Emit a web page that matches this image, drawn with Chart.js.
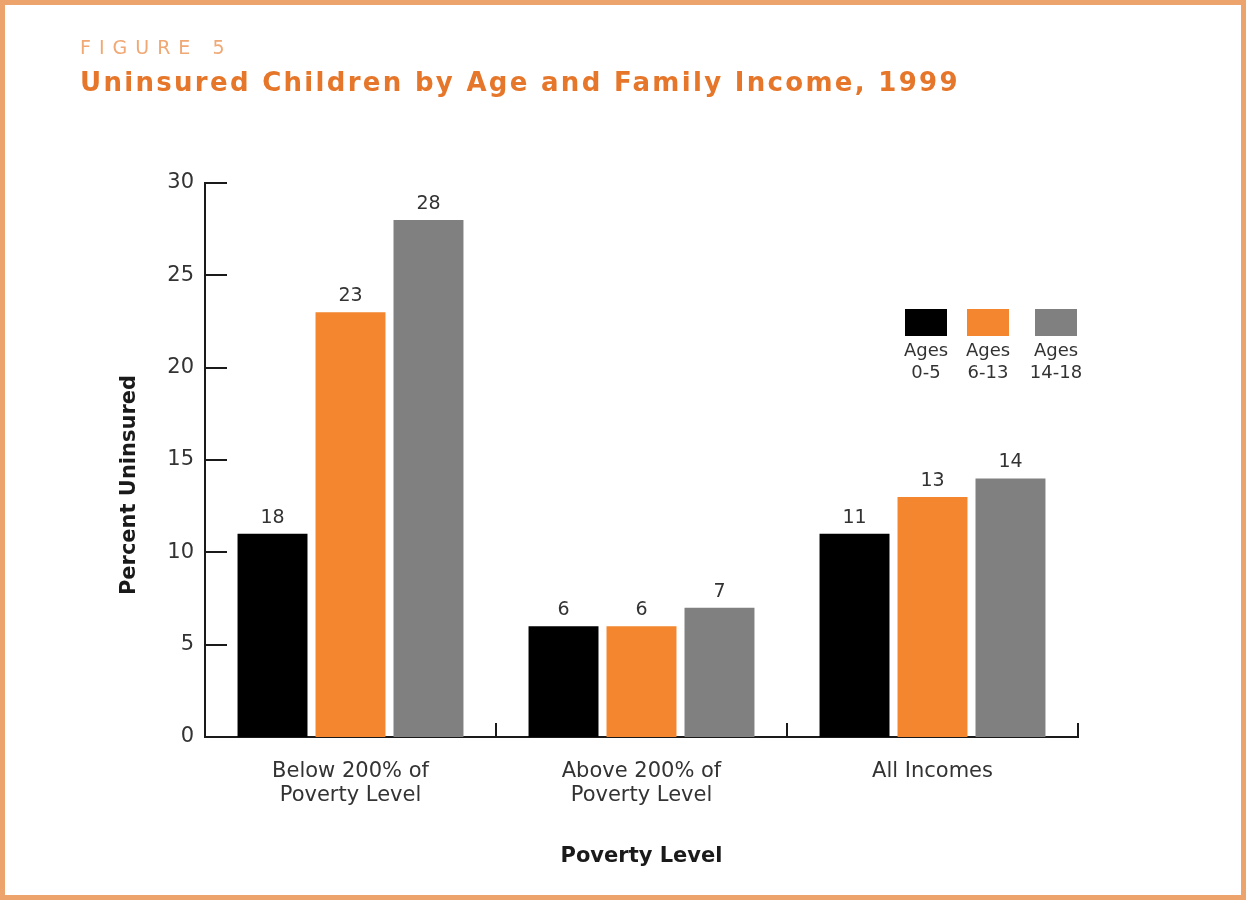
<!DOCTYPE html>
<html>
<head>
<meta charset="utf-8">
<script src="https://cdn.jsdelivr.net/npm/chart.js@4.4.1/dist/chart.umd.min.js"></script>
<style>
  html, body { margin: 0; padding: 0; background: #fff; }
  #wrap { position: relative; width: 1246px; height: 900px; overflow: hidden; }
  #frame { position: absolute; left: 0; top: 0; width: 1246px; height: 900px; box-sizing: border-box;
           border: 5px solid #EDA36C; pointer-events: none; }
  .fig { position: absolute; left: 80px; top: 36px; font: 19px "DejaVu Sans"; letter-spacing: 8px; color: #F0A874; }
  .title { position: absolute; left: 80px; top: 67px; font: bold 26px "DejaVu Sans"; letter-spacing: 2.3px; color: #E5762A; }
  .ytitle { position: absolute; left: 128px; top: 485px; transform: translate(-50%, -50%) rotate(-90deg);
            font: bold 21px "DejaVu Sans"; color: #1a1a1a; white-space: nowrap; }
  canvas { position: absolute; left: 0; top: 0; }
</style>
</head>
<body>
<div id="wrap">
  <canvas id="chart" width="1246" height="900"></canvas>
  <div class="fig">FIGURE 5</div>
  <div class="title">Uninsured Children by Age and Family Income, 1999</div>
  <div class="ytitle">Percent Uninsured</div>
  <div id="frame"></div>
</div>
<script>
// data
const categories = [['Below 200% of', 'Poverty Level'], ['Above 200% of', 'Poverty Level'], 'All Incomes'];
const seriesNames = [['Ages', '0-5'], ['Ages', '6-13'], ['Ages', '14-18']];
const ages0to5 = [11, 6, 11];
const ages6to13 = [23, 6, 13];
const ages14to18 = [28, 7, 14];
// printed labels (first one says 18 in the original even though the bar is at 11)
const labels0to5 = ['18', '6', '11'];
const labels6to13 = ['23', '6', '13'];
const labels14to18 = ['28', '7', '14'];
const yTicks = [0, 5, 10, 15, 20, 25, 30];
const colors = ['#000000', '#F3862E', '#808080'];

const valueLabels = [labels0to5, labels6to13, labels14to18];
const textColor = '#333333';
const axisColor = '#1a1a1a';

Chart.defaults.font.family = '"DejaVu Sans"';

const decor = {
  id: 'decor',
  afterDatasetsDraw(chart) {
    const {ctx, chartArea} = chart;
    const x = chart.scales.x, y = chart.scales.y;
    ctx.save();
    ctx.strokeStyle = axisColor;
    ctx.lineWidth = 2;
    // y ticks point inward
    yTicks.forEach(v => {
      const py = Math.round(y.getPixelForValue(v));
      ctx.beginPath(); ctx.moveTo(chartArea.left, py); ctx.lineTo(chartArea.left + 22, py); ctx.stroke();
    });
    // x ticks between categories, pointing up
    const half = (x.getPixelForValue(1) - x.getPixelForValue(0)) / 2;
    categories.forEach((c, i) => {
      const px = Math.round(x.getPixelForValue(i) + half);
      ctx.beginPath(); ctx.moveTo(px, chartArea.bottom); ctx.lineTo(px, chartArea.bottom - 14); ctx.stroke();
    });
    // value labels above bars
    ctx.fillStyle = textColor;
    ctx.font = '19px "DejaVu Sans"';
    ctx.textAlign = 'center';
    ctx.textBaseline = 'middle';
    chart.data.datasets.forEach((ds, di) => {
      chart.getDatasetMeta(di).data.forEach((bar, i) => {
        ctx.fillText(valueLabels[di][i], bar.x, bar.y - 16);
      });
    });
    // legend, boxes above two-line labels
    ctx.font = '18px "DejaVu Sans"';
    const centers = [152, 90, 22];
    const top = chartArea.top + 126;
    centers.forEach((off, i) => {
      const cx = chartArea.right - off;
      ctx.fillStyle = colors[i];
      ctx.fillRect(cx - 21, top, 42, 27);
      ctx.fillStyle = textColor;
      ctx.fillText(seriesNames[i][0], cx, top + 42);
      ctx.fillText(seriesNames[i][1], cx, top + 64);
    });
    ctx.restore();
  }
};

new Chart(document.getElementById('chart'), {
  type: 'bar',
  data: {
    labels: categories,
    datasets: [
      { label: 'Ages 0-5', data: ages0to5, backgroundColor: colors[0] },
      { label: 'Ages 6-13', data: ages6to13, backgroundColor: colors[1] },
      { label: 'Ages 14-18', data: ages14to18, backgroundColor: colors[2] }
    ]
  },
  options: {
    responsive: false,
    animation: false,
    categoryPercentage: 0.804,
    barPercentage: 0.897,
    layout: { padding: { top: 183, right: 168, left: 0, bottom: 0 } },
    plugins: { legend: { display: false }, tooltip: { enabled: false } },
    scales: {
      x: {
        grid: { display: false, drawTicks: false },
        border: { display: true, color: axisColor, width: 2 },
        ticks: { color: textColor, font: { size: 21, lineHeight: 1.15 }, padding: 22, maxRotation: 0 },
        title: { display: true, text: 'Poverty Level', color: axisColor, font: { size: 21, weight: 'bold' }, padding: { top: 0, bottom: 31 } },
        afterFit: s => { s.height = 163; }
      },
      y: {
        min: 0, max: 30,
        grid: { display: false, drawTicks: false },
        border: { display: true, color: axisColor, width: 2 },
        ticks: { stepSize: 5, color: textColor, font: { size: 21 }, padding: 11 },
        afterFit: s => { s.width = 205; }
      }
    }
  },
  plugins: [decor]
});
</script>
</body>
</html>
